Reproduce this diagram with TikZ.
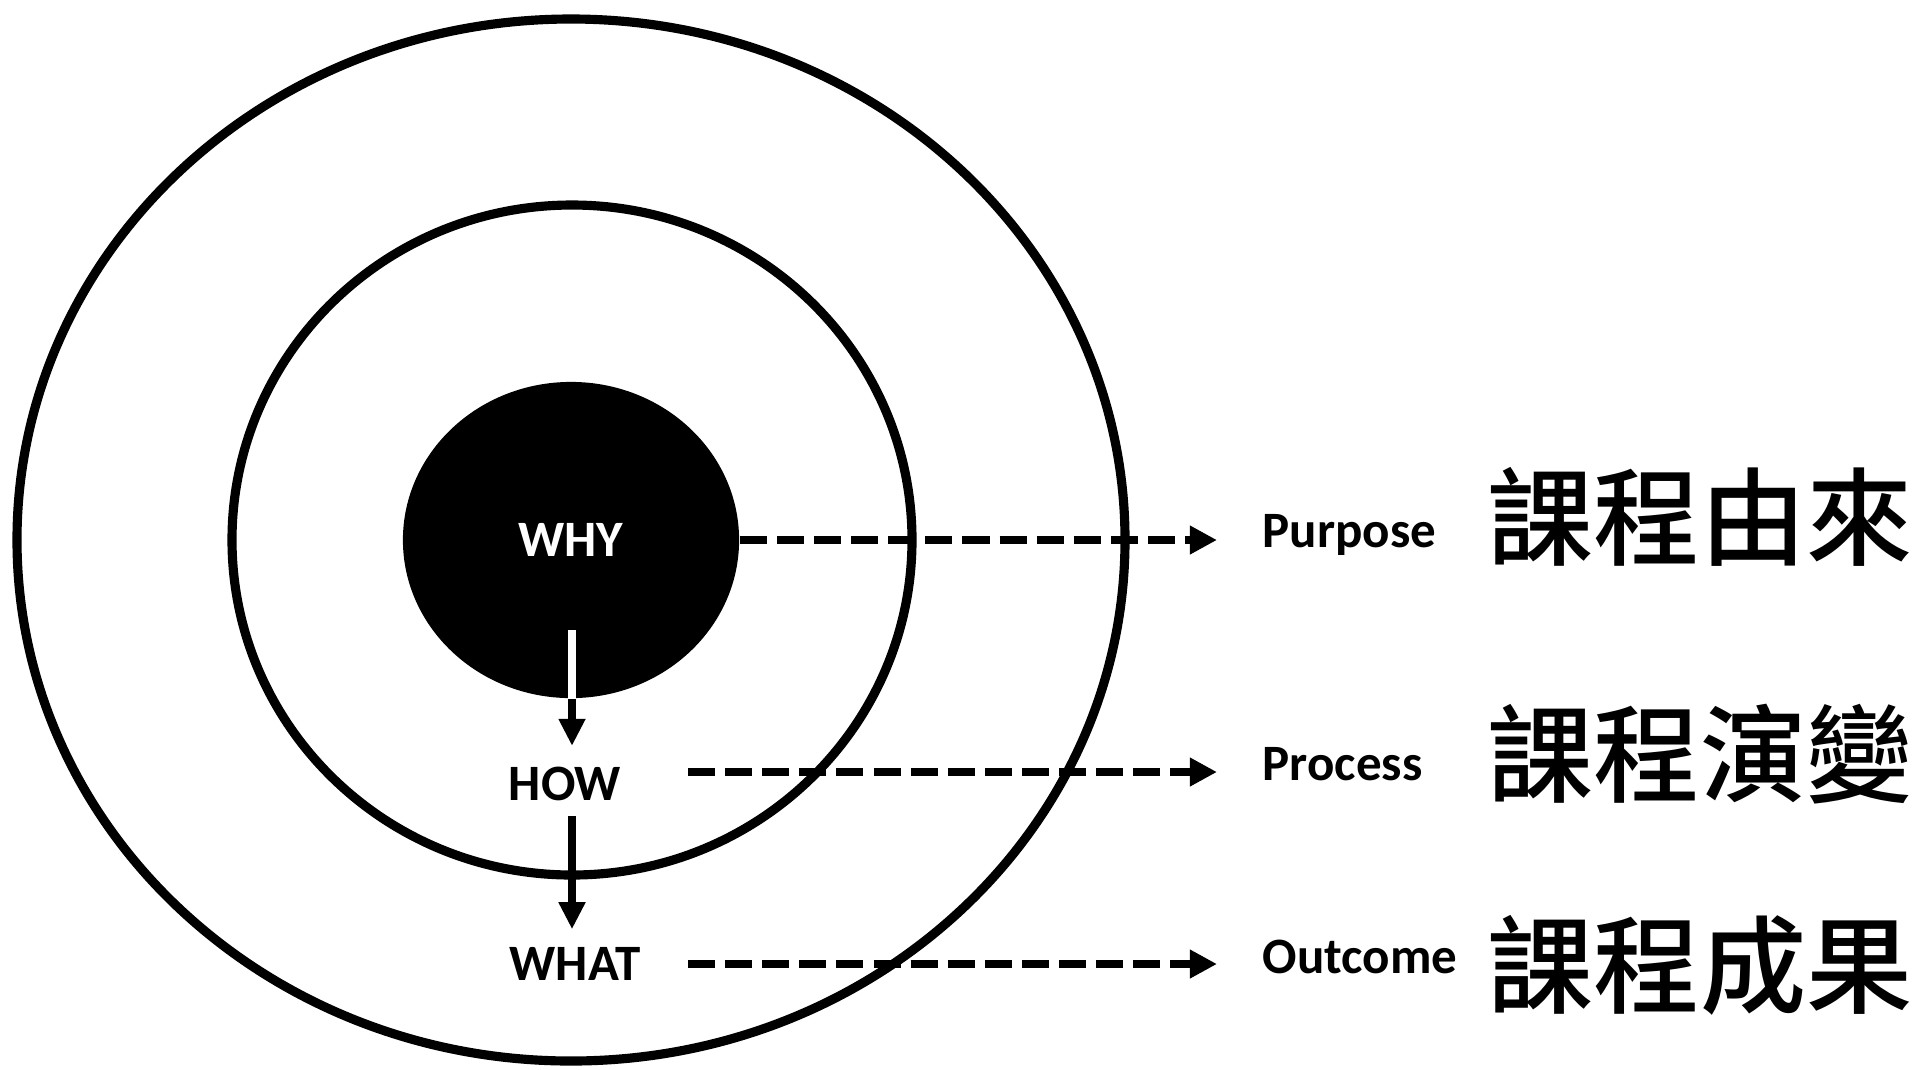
\documentclass[tikz,border=0pt]{standalone}
\usepackage{fontspec}
\setmainfont{Carlito}
\newfontfamily\cjkfont{Noto Sans CJK TC Medium}
\usetikzlibrary{arrows.meta,shapes.geometric}

\begin{document}
\begin{tikzpicture}[x=0.01cm,y=-0.01cm,
    ring/.style={line width=2.6pt},
    dasharrow/.style={line width=2.4pt,dash pattern=on 7.7pt off 2.85pt,
      -{Triangle[length=7.7pt,width=7.7pt]}},
    downarrow/.style={line width=2pt,-{Triangle[length=7.7pt,width=7.2pt]}},
    word/.style={font=\bfseries\fontsize{14.5}{16}\selectfont,inner sep=0pt},
    title/.style={font=\cjkfont\fontsize{30.2}{32}\selectfont,inner sep=0pt}]
  \useasboundingbox (0,0) rectangle (1916,1069);

  % rings
  \draw[ring] (571,540) ellipse [x radius=554, y radius=521];
  \draw[ring] (572,540) ellipse [x radius=340, y radius=335];
  \node[ellipse,fill=black,text=white,word,minimum width=3.36cm,minimum height=3.16cm] (why) at (571,540) {WHY};

  \node[word,anchor=base] (how) at (565,800) {HOW};
  \node[word,anchor=base] (what) at (575,980) {WHAT};

  % labels on the right
  \node[word,anchor=base west] (purpose) at (1262,547) {Purpose};
  \node[word,anchor=base west] (process) at (1262,780) {Process};
  \node[word,anchor=base west] (outcome) at (1262,973) {Outcome};

  \node[title,anchor=base west] (origin) at (1487,557) {課程由來};
  \node[title,anchor=base west] (change) at (1487,794) {課程演變};
  \node[title,anchor=base west] (result) at (1487,1005) {課程成果};

  % why -> how -> what
  \coordinate (down) at (572,630);
  \draw[white,line width=2pt] (down) -- (down |- why.south);
  \draw[downarrow,shorten >=0.2cm] (down |- why.south) -- (down |- how.north);
  \draw[downarrow,shorten <=0.15cm,shorten >=0.17cm] (down |- how.south) -- (down |- what.north);

  % dashed arrows
  \coordinate (howgo) at (688,772);
  \coordinate (whatgo) at (688,964);
  \draw[dasharrow,shorten >=0.45cm] (why.east) -- (why.east -| purpose.west);
  \draw[dasharrow,shorten >=0.45cm] (howgo) -- (howgo -| process.west);
  \draw[dasharrow,shorten >=0.45cm] (whatgo) -- (whatgo -| outcome.west);
\end{tikzpicture}
\end{document}
